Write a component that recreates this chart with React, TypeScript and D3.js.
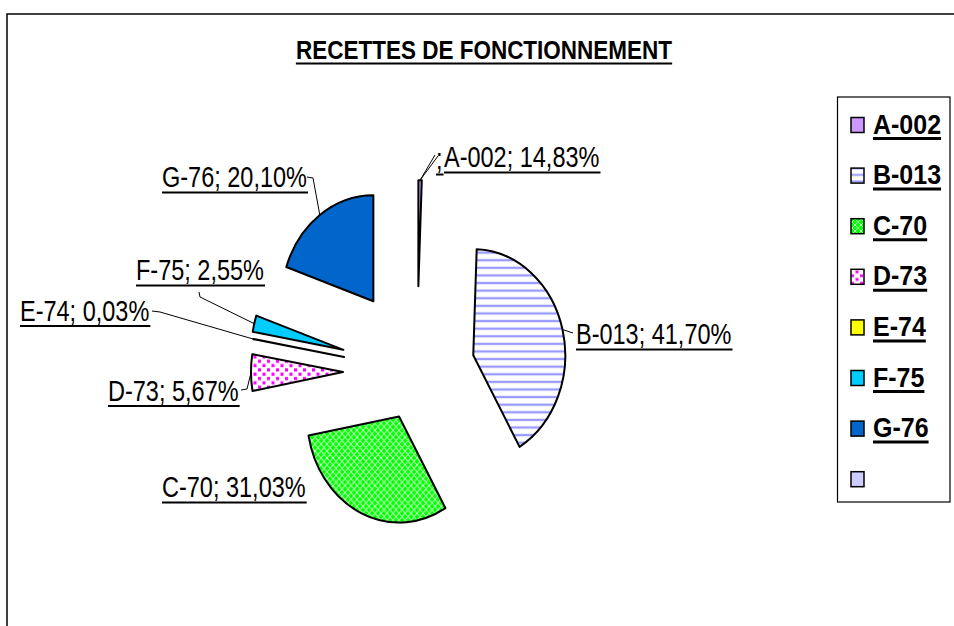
import React from 'react';
import * as d3 from 'd3';

// ---- data ----
const categories = ['A-002', 'B-013', 'C-70', 'D-73', 'E-74', 'F-75', 'G-76', ''];
// plotted slice sizes
const sliceValues = [0.6, 41.7, 31.03, 5.67, 0.03, 2.55, 20.1, 0];
// percentages printed on the data labels
const labelPercents = ['14,83%', '41,70%', '31,03%', '5,67%', '0,03%', '2,55%', '20,10%', ''];
const title = 'RECETTES DE FONCTIONNEMENT';

// ---- styles / layout ----
const fills = ['#CC99FF', 'url(#patB)', 'url(#patC)', 'url(#patD)', '#FFFF00', '#00CCFF', '#0066CC', '#CCCCFF'];
const explode = [74, 58, 43, 74, 74, 76, 75, 74];
const CX = 417, CY = 371.5, R = 92, SY = 1.152;
const TS = 1.22; // vertical text stretch
const LABEL_FONT = 23.5;
const FONT = "'Liberation Sans', Arial, sans-serif";

type Lay = { x: number; y: number; bend: [number, number][] | null; noLeader?: boolean };
const labelLayout: Lay[] = [
  { x: 444, y: 167, bend: [[435, 155]] },
  { x: 576, y: 344, bend: [[573, 333]] },
  { x: 162, y: 497, bend: null, noLeader: true },
  { x: 108, y: 400.5, bend: [[241, 390], [247, 389]] },
  { x: 20, y: 320.5, bend: [[152, 311], [160, 312]] },
  { x: 136, y: 280, bend: [[199, 292], [200, 297]] },
  { x: 162, y: 187, bend: [[307, 177], [313, 178]] },
  { x: 436, y: 169, bend: [[438, 156]] },
];

function measure(text: string, font: string): number {
  if (typeof document === 'undefined') return text.length * 10;
  const c = document.createElement('canvas').getContext('2d');
  if (!c) return text.length * 10;
  c.font = font;
  return c.measureText(text).width;
}

export default function App() {
  const pie = d3.pie<number>().sort(null).value((d) => d)(sliceValues);
  const arc = d3.arc<d3.PieArcDatum<number>>().innerRadius(0).outerRadius(R);

  const outerPoint = (i: number): [number, number] => {
    const a = pie[i];
    const m = (a.startAngle + a.endAngle) / 2;
    const d = R + explode[i];
    return [CX + d * Math.sin(m), CY - SY * d * Math.cos(m)];
  };

  const titleW = measure(title, `bold 22.5px ${FONT}`);
  const legendY0 = 125;
  const legendStep = 50.6;

  return (
    <svg
      width={954}
      height={626}
      style={{ position: 'absolute', left: 0, top: 0, background: '#fff' }}
    >
      <defs>
        <pattern id="patB" patternUnits="userSpaceOnUse" width={6} height={6.6}>
          <rect width={6} height={6.6} fill="#fff" />
          <rect y={2.3} width={6} height={2} fill="#9999FF" />
        </pattern>
        <pattern id="patC" patternUnits="userSpaceOnUse" width={6} height={6}>
          <rect width={6} height={6} fill="#00FF00" />
          <path d="M0,0 L6,6 M6,0 L0,6" stroke="#BFFFBF" strokeWidth={0.9} />
        </pattern>
        <pattern id="patD" patternUnits="userSpaceOnUse" width={9} height={7.5}>
          <rect width={9} height={7.5} fill="#fff" />
          <rect x={0.5} y={0.5} width={3} height={2.8} fill="#FF00FF" />
          <rect x={5} y={4.3} width={3} height={2.8} fill="#FF00FF" />
        </pattern>
      </defs>

      {/* outer chart border */}
      <rect x={7} y={14} width={960} height={640} fill="#fff" stroke="#000" strokeWidth={1.5} />

      {/* title */}
      <text
        transform={`translate(484,58.5) scale(1,1.15)`}
        textAnchor="middle"
        fontFamily={FONT}
        fontWeight="bold"
        fontSize={22.5}
        fill="#000"
      >
        {title}
      </text>
      <line x1={484 - titleW / 2} x2={484 + titleW / 2} y1={63.5} y2={63.5} stroke="#000" strokeWidth={2} />

      {/* slices */}
      <g transform={`translate(${CX},${CY}) scale(1,${SY})`}>
        {pie.map((a, i) => {
          if (a.value <= 0) return null;
          const m = (a.startAngle + a.endAngle) / 2;
          const dx = explode[i] * Math.sin(m);
          const dy = -explode[i] * Math.cos(m);
          return (
            <path
              key={i}
              d={arc(a) || ''}
              transform={`translate(${dx},${dy})`}
              fill={fills[i]}
              stroke="#000"
              strokeWidth={2}
              strokeLinejoin="round"
              vectorEffect="non-scaling-stroke"
            />
          );
        })}
      </g>

      {/* leader lines */}
      {labelLayout.map((l, i) => {
        if (l.noLeader || !l.bend) return null;
        const p = outerPoint(i);
        const off = i === 7 ? 3 : 0;
        const pts: [number, number][] = [...l.bend, [p[0] + off, p[1]]];
        return (
          <polyline
            key={i}
            points={pts.map((q) => q.join(',')).join(' ')}
            fill="none"
            stroke="#000"
            strokeWidth={1}
          />
        );
      })}

      {/* data labels */}
      {categories.map((c, i) => {
        const l = labelLayout[i];
        const txt = c === '' ? ';' : `${c}; ${labelPercents[i]}`;
        const w = measure(txt, `${LABEL_FONT}px ${FONT}`);
        return (
          <g key={i}>
            <text
              transform={`translate(${l.x},${l.y}) scale(1,${TS})`}
              fontFamily={FONT}
              fontSize={LABEL_FONT}
              fill="#000"
            >
              {txt}
            </text>
            <line x1={l.x} x2={l.x + w + 1} y1={l.y + 5.5} y2={l.y + 5.5} stroke="#000" strokeWidth={2} />
          </g>
        );
      })}

      {/* legend */}
      <rect x={837.5} y={97} width={112.5} height={405} fill="#fff" stroke="#000" strokeWidth={1.2} />
      {categories.map((c, i) => {
        const cy = legendY0 + i * legendStep;
        const w = measure(c, `bold 25px ${FONT}`);
        return (
          <g key={i}>
            <rect x={851} y={cy - 7.5} width={13} height={15} fill={fills[i]} stroke="#000" strokeWidth={1.5} />
            {c !== '' && (
              <>
                <text
                  transform={`translate(873,${cy + 8.5}) scale(1,1.12)`}
                  fontFamily={FONT}
                  fontWeight="bold"
                  fontSize={25}
                  fill="#000"
                >
                  {c}
                </text>
                <line x1={873} x2={873 + w} y1={cy + 13.5} y2={cy + 13.5} stroke="#000" strokeWidth={3} />
              </>
            )}
          </g>
        );
      })}
    </svg>
  );
}
